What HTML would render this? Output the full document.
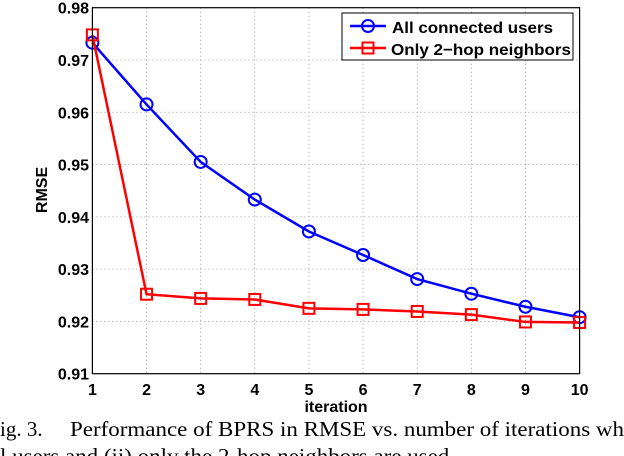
<!DOCTYPE html>
<html><head><meta charset="utf-8"><style>
html,body{margin:0;padding:0;background:#fff;width:624px;height:456px;overflow:hidden}
svg{display:block}
.tk{font-family:"Liberation Sans",Arial,sans-serif;font-weight:bold;font-size:16px;fill:#000}
.cap{font-family:"Liberation Serif","Times New Roman",serif;font-size:21px;fill:#000}
</style></head><body>
<svg id="chart" width="624" height="456" viewBox="0 0 624 456">
<rect x="0" y="0" width="624" height="456" fill="#fff"/>
<g id="grid"></g>
<g id="series"></g>
<rect x="92.4" y="7.7" width="487.2" height="366" fill="none" stroke="#000" stroke-width="1.2"/>
<g id="ticks"></g>
<text class="tk" x="336" y="412" text-anchor="middle" font-size="16">iteration</text>
<text class="tk" x="0" y="0" text-anchor="middle" font-size="16" transform="translate(47,190) rotate(-90)">RMSE</text>
<g>
<rect x="342" y="13" width="231" height="47" fill="#fff" stroke="#000" stroke-width="1"/>
<g>
<line x1="350" y1="26" x2="386" y2="26" stroke="#0000ff" stroke-width="2.5"/>
<circle cx="368" cy="26" r="6" fill="none" stroke="#0000ff" stroke-width="2"/>
<text class="tk" x="392" y="33" font-size="17" textLength="161" lengthAdjust="spacingAndGlyphs">All connected users</text>
</g>
<g>
<line x1="350" y1="48" x2="386" y2="48" stroke="#ff0000" stroke-width="2.5"/>
<rect x="362.5" y="42.5" width="11" height="11" fill="none" stroke="#ff0000" stroke-width="2"/>
<text class="tk" x="391" y="55" font-size="17" textLength="180" lengthAdjust="spacingAndGlyphs">Only 2−hop neighbors</text>
</g>
</g>
<text class="cap" x="0" y="436">ig. 3.</text>
<text class="cap" x="70" y="436" textLength="554" lengthAdjust="spacingAndGlyphs">Performance of BPRS in RMSE vs. number of iterations wh</text>
<text class="cap" x="0" y="463" textLength="455" lengthAdjust="spacingAndGlyphs">l users and (ii) only the 2-hop neighbors are used.</text>
</svg>
<script>
const iterations=[1,2,3,4,5,6,7,8,9,10];
const allConnected=[0.9733,0.9615,0.9505,0.9433,0.9372,0.9327,0.9281,0.9253,0.9228,0.9208];
const twoHop=[0.9748,0.9252,0.9244,0.9242,0.9225,0.9223,0.9219,0.9213,0.9199,0.9198];
const yTicks=[0.91,0.92,0.93,0.94,0.95,0.96,0.97,0.98];
const yTickLabels=["0.91","0.92","0.93","0.94","0.95","0.96","0.97","0.98"];
const xTicks=[1,2,3,4,5,6,7,8,9,10];

const X0=92.4,X1=579.6,Y0=373.7,Y1=7.7;
const sx=v=>X0+(v-1)/(10-1)*(X1-X0);
const sy=v=>Y0-(v-0.91)/(0.98-0.91)*(Y0-Y1);
const NS="http://www.w3.org/2000/svg";
function mk(t,a,p){const e=document.createElementNS(NS,t);for(const k in a)e.setAttribute(k,a[k]);p.appendChild(e);return e;}
const grid=document.getElementById('grid'),ticks=document.getElementById('ticks'),series=document.getElementById('series');
xTicks.forEach((v,i)=>{
  const x=sx(v);
  if(i>0&&i<xTicks.length-1){const g=mk('line',{x1:x,x2:x,y1:Y1,y2:Y0,stroke:'#888','stroke-width':0.8,'stroke-dasharray':'1 3'},grid);
  
  }
  const t=mk('text',{x:x,y:395,'text-anchor':'middle',class:'tk'},ticks);t.textContent=v;
  
  
});
yTicks.forEach((v,i)=>{
  const y=sy(v);
  if(i>0&&i<yTicks.length-1){const g=mk('line',{x1:X0,x2:X1,y1:y,y2:y,stroke:'#888','stroke-width':0.8,'stroke-dasharray':'1 3'},grid);
  
  }
  const t=mk('text',{x:89,y:y+6,'text-anchor':'end',class:'tk'},ticks);t.textContent=yTickLabels[i];
  
  
});
function draw(vals,color,marker,name){
  const pts=vals.map((v,i)=>sx(iterations[i])+','+sy(v)).join(' ');
  const pl=mk('polyline',{points:pts,fill:'none',stroke:color,'stroke-width':2.5},series);
  
  
  vals.forEach((v,i)=>{
    const x=sx(iterations[i]),y=sy(v);let m;
    if(marker==='circle')m=mk('circle',{cx:x,cy:y,r:6,fill:'none',stroke:color,'stroke-width':2},series);
    else m=mk('rect',{x:x-5.5,y:y-5.5,width:11,height:11,fill:'none',stroke:color,'stroke-width':2},series);
    
    
  });
}
draw(allConnected,'#0000ff','circle','all-connected');
draw(twoHop,'#ff0000','square','two-hop');
</script>
</body></html>
